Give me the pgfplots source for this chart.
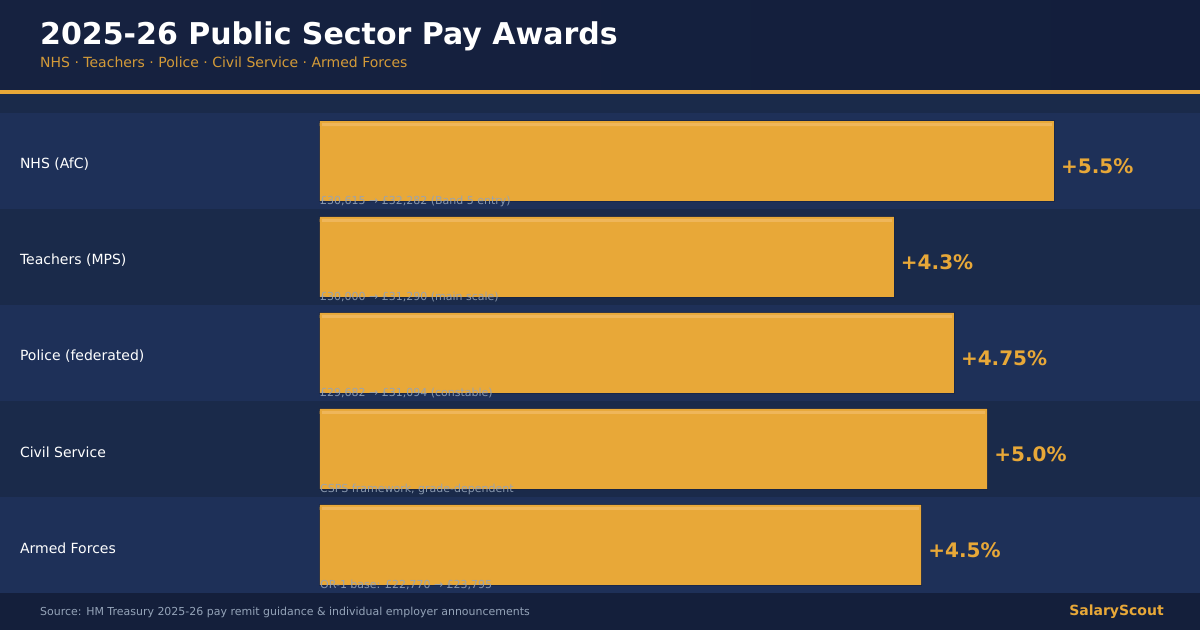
\documentclass[border=0pt]{standalone}
\usepackage{pgfplots}
\pgfplotsset{compat=1.18}
\usepackage{fontspec}
\setmainfont{DejaVu Sans}
\definecolor{hdrL}{HTML}{162240}
\definecolor{hdrR}{HTML}{131E3C}
\definecolor{gold}{HTML}{E8A838}
\definecolor{goldlt}{HTML}{EFB65A}
\definecolor{rowA}{HTML}{1E3058}
\definecolor{rowB}{HTML}{1A2A4A}
\definecolor{foot}{HTML}{141F3B}
\definecolor{note}{HTML}{94A3B8}
\newcommand{\fs}[1]{\fontsize{#1}{#1}\selectfont}
\tikzset{notelab/.style={anchor=base west,inner sep=0,text=note,text opacity=0.9,font=\fs{11}}}
\begin{document}
\begin{tikzpicture}
\begin{scope}[x=1pt,y=-1pt]
\path[use as bounding box] (0,0) rectangle (1200,630);
\fill[rowB] (0,0) rectangle (1200,630);
\fill[left color=hdrL,right color=hdrR] (0,0) rectangle (1200,90);
\fill[gold] (0,90) rectangle (1200,94);
\fill[rowA] (0,113) rectangle (1200,209);
\fill[rowB] (0,209) rectangle (1200,305);
\fill[rowA] (0,305) rectangle (1200,401);
\fill[rowB] (0,401) rectangle (1200,497);
\fill[rowA] (0,497) rectangle (1200,593);
\fill[foot] (0,593) rectangle (1200,630);
\node[anchor=base west,inner sep=0,text=white,font=\fs{30}\bfseries] at (40,44.5) {2025-26 Public Sector Pay Awards};
\node[anchor=base west,inner sep=0,text=gold,text opacity=0.9,font=\fs{14}] at (40,68) {NHS · Teachers · Police · Civil Service · Armed Forces};
\node[anchor=base west,inner sep=0,text=note,font=\fs{10.98}] at (40,615.5) {Source: HM Treasury 2025-26 pay remit guidance \& individual employer announcements};
\node[anchor=base east,inner sep=0,text=gold,font=\fs{14}\bfseries] at (1164,615.5) {SalaryScout};
\end{scope}
\begin{axis}[
  at={(320pt,-593pt)},anchor=south west,
  width=880pt,height=480pt,scale only axis,
  xmin=0,xmax=6.59401,ymin=-0.5,ymax=4.5,y dir=reverse,
  axis line style={draw=none},
  xtick=\empty,
  ytick={0,1,2,3,4},
  yticklabels={NHS (AfC),Teachers (MPS),Police (federated),Civil Service,Armed Forces},
  major tick length=0pt,
  yticklabel style={anchor=west,xshift=-303.5pt,yshift=-3pt,text=white,font=\fs{14}},
  clip=false,
  xbar,
]
% soft dark edge round each bar
\addplot[xbar,bar width=80pt,bar shift=0pt,fill=hdrL,draw=hdrL,draw opacity=0.6,line width=1.5pt] coordinates {
  (5.5,0) (4.3,1) (4.75,2) (5.0,3) (4.505,4)
};
\addplot[xbar,bar width=80pt,bar shift=0pt,fill=gold,draw=none,
  point meta=explicit symbolic,
  nodes near coords,
  nodes near coords style={anchor=west,xshift=7pt,yshift=-5.5pt,text=gold,font=\fs{20}\bfseries,inner sep=0pt},
] coordinates {
  (5.5,0) [+5.5\%]
  (4.3,1) [+4.3\%]
  (4.75,2) [+4.75\%]
  (5.0,3) [+5.0\%]
  (4.505,4) [+4.5\%]
};
% lighter strip along the top of each bar
\addplot[xbar,bar width=3pt,bar shift=36.5pt,fill=goldlt,draw=none] coordinates {
  (5.485,0) (4.285,1) (4.735,2) (4.985,3) (4.49,4)
};
\addplot[xbar,bar width=3pt,bar shift=36.5pt,fill=gold,draw=none] coordinates {
  (0.015,0) (0.015,1) (0.015,2) (0.015,3) (0.015,4)
};
\node[notelab] at (axis cs:0,0.45) {£30,615 → £32,282 (Band 5 entry)};
\node[notelab] at (axis cs:0,1.45) {£30,000 → £31,290 (main scale)};
\node[notelab] at (axis cs:0,2.45) {£29,682 → £31,094 (constable)};
\node[notelab] at (axis cs:0,3.45) {CSPS framework, grade-dependent};
\node[notelab] at (axis cs:0,4.45) {OR-1 base: £22,770 → £23,795};
\end{axis}
\end{tikzpicture}
\end{document}
